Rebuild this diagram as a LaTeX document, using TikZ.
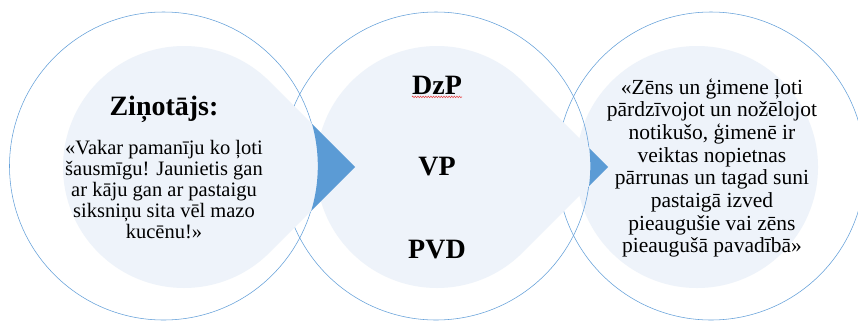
\documentclass[tikz,border=0pt]{standalone}
\usepackage{fontspec}
\setmainfont{Liberation Serif}
\usetikzlibrary{decorations.pathmorphing}
\definecolor{ring}{RGB}{100,160,218}
\definecolor{pale}{RGB}{238,243,250}
\definecolor{deep}{RGB}{91,155,213}
\definecolor{squiggle}{RGB}{230,60,60}
\tikzset{
  ringline/.style={draw=ring, line width=0.55pt},
  palefill/.style={fill=pale},
  headtxt/.style={font=\bfseries\fontsize{28}{30}\selectfont, inner sep=0pt},
  bodyL/.style={font=\fontsize{20.5}{21}\selectfont, align=center, inner sep=0pt},
  bodyR/.style={font=\fontsize{21.5}{22.7}\selectfont, align=center, inner sep=0pt},
}
% teardrop: centre x, centre y (radius 121, tip to the right)
\newcommand\tdroppath[2]{(#1+171.12,#2) -- (#1+85.56,#2-85.56) arc[start angle=315, end angle=45, radius=121] -- cycle}
\begin{document}
\begin{tikzpicture}[x=1pt,y=-1pt]
\useasboundingbox (0,0) rectangle (858,322);
\fill[white] (0,0) rectangle (858,322);
% step 3
\draw[ringline] (711,166) circle (154);
\fill[palefill] (697,167) circle (121);
% step 2
\draw[ringline] (436,166) circle (154);
\fill[palefill] \tdroppath{437}{167};
% step 1
\draw[ringline] (163.5,166) circle (154);
\fill[palefill] \tdroppath{184}{167};
% dark tips
\begin{scope}
  \clip \tdroppath{437}{167};
  \fill[deep, even odd rule] (-10,-10) rectangle (870,340) (436,166) circle (154.3);
\end{scope}
\begin{scope}
  \clip \tdroppath{184}{167};
  \fill[deep, even odd rule] (-10,-10) rectangle (870,340) (163.5,166) circle (154.3);
\end{scope}
% texts
\node[headtxt] (zin) at (164,109) {Ziņotājs:};
\node[bodyL] (txtL) at (164,190) {«Vakar pamanīju ko ļoti\\šausmīgu! Jaunietis gan\\ar kāju gan ar pastaigu\\siksniņu sita vēl mazo\\kucēnu!»};
\node[headtxt] (dzp) at (437,85) {DzP};
\node[headtxt] (vp) at (437,167) {VP};
\node[headtxt] (pvd) at (437,250) {PVD};
\node[bodyR] (txtR) at (712,168) {«Zēns un ģimene ļoti\\pārdzīvojot un nožēlojot\\notikušo, ģimenē ir\\veiktas nopietnas\\pārrunas un tagad suni\\pastaigā izved\\pieaugušie vai zēns\\pieaugušā pavadībā»};
\coordinate (sqA) at ([yshift=-2.5pt]dzp.south west);
\coordinate (sqB) at ([yshift=-2.5pt]dzp.south east);
\draw[squiggle, line width=0.5pt, decorate, decoration={snake, amplitude=0.8pt, segment length=2.6pt}] (sqA) -- (sqB);
\end{tikzpicture}
\end{document}
